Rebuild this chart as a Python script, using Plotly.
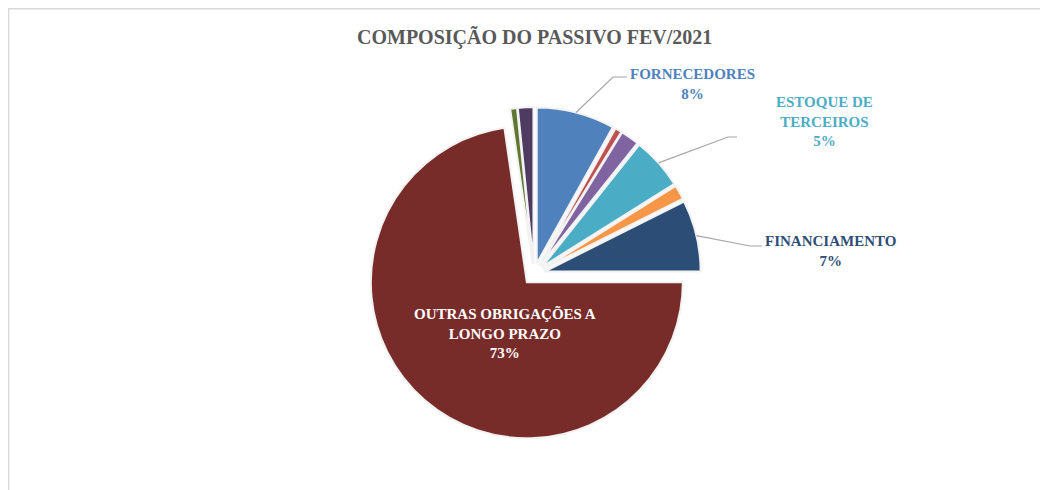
import math
import plotly.graph_objects as go

# ---- data ----
categories = ["FORNECEDORES", "OUTROS 1", "OUTROS 2", "ESTOQUE DE TERCEIROS",
              "OUTROS 3", "FINANCIAMENTO", "OUTRAS OBRIGAÇÕES A LONGO PRAZO",
              "OUTROS 4", "OUTROS 5"]
values = [8.1, 0.7, 1.9, 5.4, 1.5, 7.4, 72.7, 0.7, 1.6]
colors = ["#4F81BD", "#C0504D", "#8064A2", "#4BACC6", "#F79646",
          "#2C4D75", "#772C2A", "#5F7530", "#4D3B62"]
title_text = "COMPOSIÇÃO DO PASSIVO FEV/2021"

# ---- layout geometry (page pixels) ----
W, H = 1048, 490
OFF = 8          # default page body margin
CX, CY = 534, 274
R = 156
PULL = 0.07
R_MAX = R * (1 + PULL)
FONT = "Liberation Serif"

def px(x):
    return (x - OFF) / W

def py(y):
    return 1 - (y - OFF) / H

fig = go.Figure()
fig.add_trace(go.Pie(
    labels=categories, values=values, sort=False, direction="clockwise",
    rotation=0, pull=[PULL] * len(values),
    marker=dict(colors=colors, line=dict(color="#f2f2f2", width=2)),
    textinfo="none", hoverinfo="label+percent", showlegend=False,
    domain=dict(x=[px(CX - R_MAX), px(CX + R_MAX)],
                y=[py(CY + R_MAX), py(CY - R_MAX)]),
))

total = sum(values)
cum = [sum(values[:i]) for i in range(len(values))]

def arc_point(i):
    th = 2 * math.pi * (cum[i] + values[i] / 2) / total
    vx = CX + PULL * R * math.sin(th)
    vy = CY - PULL * R * math.cos(th)
    return vx + R * math.sin(th), vy - R * math.cos(th)

def pct(i):
    return f"{round(values[i] / total * 100)}%"

# label specs: index, text lines, elbow, end, text centre
labels_out = [
    (0, "FORNECEDORES", (613, 77), (627, 77), (692, 84)),
    (3, "ESTOQUE DE<br>TERCEIROS", (728, 137), (737, 137), (824, 121.5)),
    (5, "FINANCIAMENTO", (750, 246), (762, 246), (830, 251)),
]

shapes = []
annotations = []
for i, txt, elbow, end, ctr in labels_out:
    sx, sy = arc_point(i)
    path = (f"M {px(sx)} {py(sy)} L {px(elbow[0])} {py(elbow[1])} "
            f"L {px(end[0])} {py(end[1])}")
    shapes.append(dict(type="path", xref="paper", yref="paper", path=path,
                       line=dict(color="#a6a6a6", width=1.2)))
    annotations.append(dict(
        x=px(ctr[0]), y=py(ctr[1]), xref="paper", yref="paper",
        text=f"{txt}<br>{pct(i)}", showarrow=False, align="center",
        xanchor="center", yanchor="middle",
        font=dict(family=FONT, size=15, color=colors[i], weight="bold")))

annotations.append(dict(
    x=px(505), y=py(333), xref="paper", yref="paper",
    text=f"OUTRAS OBRIGAÇÕES A<br>LONGO PRAZO<br>{pct(6)}",
    showarrow=False, align="center", xanchor="center", yanchor="middle",
    font=dict(family=FONT, size=15, color="#ffffff", weight="bold")))

annotations.append(dict(
    x=px(534), y=py(37.5), xref="paper", yref="paper", text=title_text,
    showarrow=False, xanchor="center", yanchor="middle",
    font=dict(family=FONT, size=20, color="#595959", weight="bold")))

shapes.append(dict(type="rect", xref="paper", yref="paper",
                   x0=px(8.6), x1=1.05, y0=-0.05, y1=py(8.6),
                   line=dict(color="#d9d9d9", width=1.6)))

fig.update_layout(
    width=W, height=H, margin=dict(l=0, r=0, t=0, b=0),
    paper_bgcolor="white", plot_bgcolor="white",
    shapes=shapes, annotations=annotations, showlegend=False,
)

fig.write_html("out.html")
